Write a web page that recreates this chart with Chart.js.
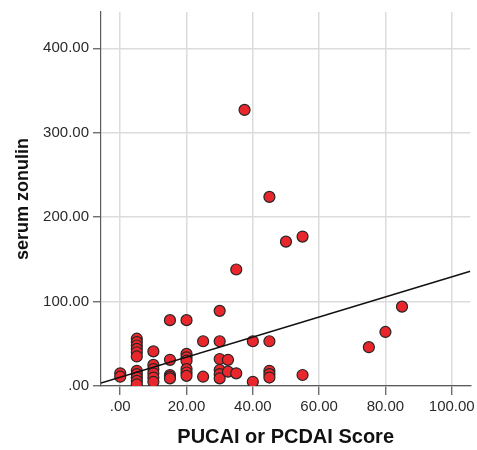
<!DOCTYPE html>
<html>
<head>
<meta charset="utf-8">
<script src="https://cdn.jsdelivr.net/npm/chart.js@4"></script>
<style>
html,body{margin:0;padding:0;background:#fff;}
#c{display:block;}
</style>
</head>
<body>
<canvas id="c" width="477" height="450"></canvas>
<script>
// PUCAI or PCDAI score (x) and serum zonulin (y)
const scoreX = [
  0, 0,
  5, 5, 5, 5, 5, 5, 5, 5, 5, 5, 5,
  10, 10, 10, 10, 10, 10,
  15, 15, 15, 15, 15,
  20, 20, 20, 20, 20, 20, 20,
  25, 25,
  30, 30, 30, 30, 30, 30,
  32.5, 32.5,
  35, 35,
  37.5,
  40, 40,
  45, 45, 45, 45, 45,
  50,
  55, 55,
  75, 80, 85
];
const zonulinY = [
  15, 11,
  56, 52, 48, 44, 40, 35, 18, 14, 10, 6, 2,
  41, 25, 20, 15, 10, 5,
  78, 31, 13, 11, 9,
  78, 38, 34, 30, 20, 16, 12,
  53, 11,
  89, 53, 32, 19, 14, 9,
  31, 17,
  138, 15,
  327,
  53, 5,
  224, 53, 18, 14, 10,
  171,
  177, 13,
  46, 64, 94
];
// fit line endpoints
const fitLineX = [-5.8, 105.6];
const fitLineY = [3.4, 136];

const xTicks = [0, 20, 40, 60, 80, 100];
const yTicks = [0, 100, 200, 300, 400];
const xMin = -5.8, xMax = 105.6;
const yMin = 0, yMax = 443;

const fmt = v => { const s = Number(v).toFixed(2); return s.startsWith('0') ? s.slice(1) : s; };

const points = scoreX.map((x, i) => ({x: x, y: zonulinY[i]}));
const linePts = fitLineX.map((x, i) => ({x: x, y: fitLineY[i]}));

new Chart(document.getElementById('c'), {
  type: 'scatter',
  data: {
    datasets: [
      {
        type: 'line',
        data: linePts,
        borderColor: '#111',
        borderWidth: 1.5,
        pointRadius: 0,
        fill: false,
        order: 0
      },
      {
        data: points,
        backgroundColor: '#e8262b',
        borderColor: '#262626',
        borderWidth: 1.2,
        pointRadius: 5.5,
        order: 1
      }
    ]
  },
  options: {
    responsive: false,
    animation: false,
    events: [],
    layout: {padding: {top: 12, right: 5, left: 0, bottom: 0}},
    plugins: {legend: {display: false}, tooltip: {enabled: false}},
    scales: {
      x: {
        type: 'linear',
        min: xMin, max: xMax,
        afterBuildTicks: s => { s.ticks = xTicks.map(v => ({value: v})); },
        afterFit: s => { s.height = 64; s.paddingLeft = 0; s.paddingRight = 0; },
        grid: {color: '#dcdcdc', lineWidth: 1.5, tickColor: '#555', tickLength: 9, tickWidth: 1.2},
        border: {color: '#5a5a5a', width: 1.2},
        ticks: {
          callback: v => fmt(v),
          color: '#2a2a2a',
          padding: 3,
          maxRotation: 0,
          autoSkip: false,
          font: {family: '"Liberation Sans", Arial, sans-serif', size: 15}
        },
        title: {
          display: true,
          text: 'PUCAI or PCDAI Score',
          color: '#111',
          padding: {top: 0, bottom: 1},
          font: {family: '"Liberation Sans", Arial, sans-serif', size: 20, weight: 'bold', lineHeight: 1.2}
        }
      },
      y: {
        type: 'linear',
        min: yMin, max: yMax,
        afterBuildTicks: s => { s.ticks = yTicks.map(v => ({value: v})); },
        afterFit: s => { s.width = 101; s.paddingTop = 0; s.paddingBottom = 0; },
        grid: {color: '#dcdcdc', lineWidth: 1.5, tickColor: '#555', tickLength: 8, tickWidth: 1.2},
        border: {color: '#5a5a5a', width: 1.2},
        ticks: {
          callback: v => fmt(v),
          color: '#2a2a2a',
          padding: 4,
          autoSkip: false,
          font: {family: '"Liberation Sans", Arial, sans-serif', size: 15}
        },
        title: {
          display: true,
          text: 'serum zonulin',
          color: '#111',
          padding: {top: 12, bottom: 0},
          font: {family: '"Liberation Sans", Arial, sans-serif', size: 18, weight: 'bold', lineHeight: 1.2}
        }
      }
    }
  }
});
</script>
</body>
</html>
